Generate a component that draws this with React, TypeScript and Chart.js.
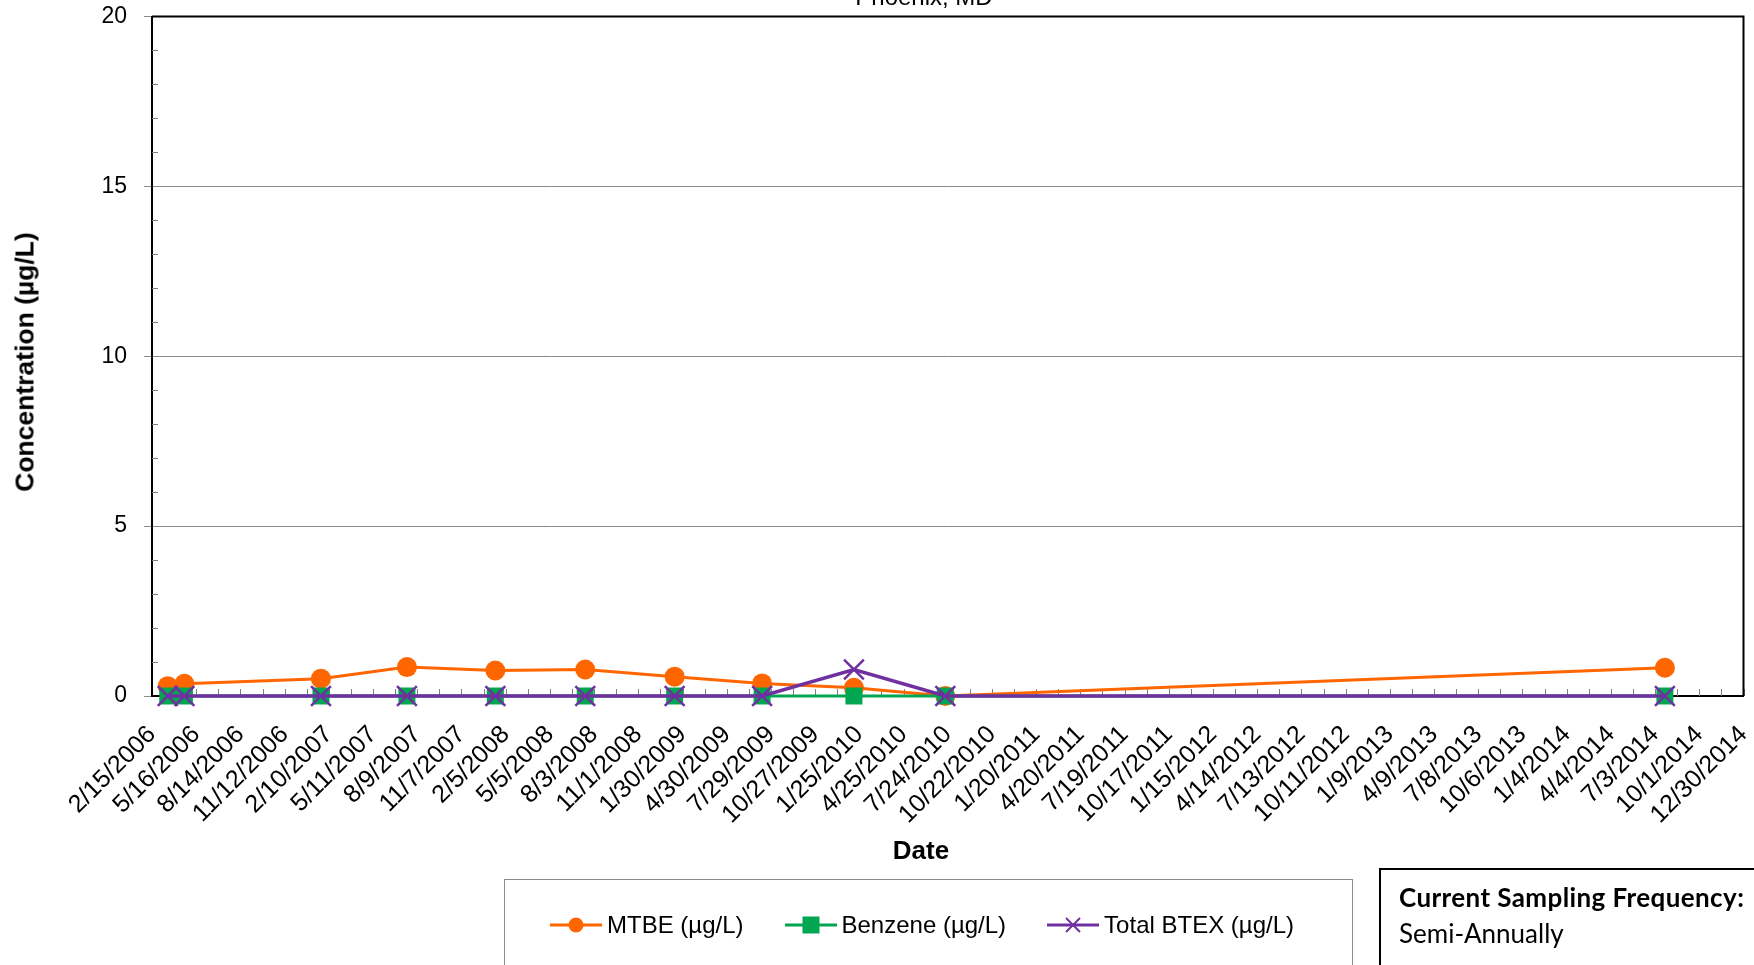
import React, { useEffect, useRef } from "react";
import { Chart, registerables } from "chart.js";

Chart.register(...registerables);

const sampleDates = ["3/19/2006", "4/22/2006", "1/25/2007", "7/19/2007", "1/15/2008", "7/16/2008", "1/14/2009", "7/11/2009", "1/14/2010", "7/19/2010", "7/23/2014"];
const mtbeValues = [0.29, 0.36, 0.51, 0.85, 0.75, 0.78, 0.57, 0.37, 0.24, 0, 0.83];
const benzeneValues = [0, 0, 0, 0, 0, 0, 0, 0, 0, 0, 0];
const btexValues = [0, 0, 0, 0, 0, 0, 0, 0, 0.78, 0, 0];
const axisStartDate = "2/15/2006";
const axisEndDate = "12/30/2014";
const tickStepDays = 90;
const yTicks = [0, 5, 10, 15, 20];

const DAY = 86400000;
function parseDate(s: string): number {
  const [m, d, y] = s.split("/").map(Number);
  return Date.UTC(y, m - 1, d);
}
const t0 = parseDate(axisStartDate);
const toDays = (s: string) => Math.round((parseDate(s) - t0) / DAY);
const xMax = toDays(axisEndDate);
function fmt(days: number): string {
  const dt = new Date(t0 + days * DAY);
  return `${dt.getUTCMonth() + 1}/${dt.getUTCDate()}/${dt.getUTCFullYear()}`;
}

const FONT = "'Liberation Sans', Arial, Helvetica, sans-serif";
const ORANGE = "#FF6600";
const GREEN = "#00A650";
const PURPLE = "#7030A0";

const framePlugin = {
  id: "frame",
  beforeDatasetsDraw(chart: any) {
    const { ctx, chartArea } = chart;
    const { left, right, top, bottom } = chartArea;
    const xs = chart.scales.x;
    const ys = chart.scales.y;
    ctx.save();
    ctx.strokeStyle = "#7f7f7f";
    ctx.lineWidth = 1;
    for (let v = tickStepDays / 2; v <= xMax; v += tickStepDays / 2) {
      const px = Math.round(xs.getPixelForValue(v)) + 0.5;
      ctx.beginPath();
      ctx.moveTo(px, bottom - 7);
      ctx.lineTo(px, bottom);
      ctx.stroke();
    }
    for (let v = 1; v < 20; v++) {
      if (v % 5 === 0) continue;
      const py = Math.round(ys.getPixelForValue(v)) + 0.5;
      ctx.beginPath();
      ctx.moveTo(left, py);
      ctx.lineTo(left + 6, py);
      ctx.stroke();
    }
    ctx.strokeStyle = "#000";
    ctx.lineWidth = 2;
    ctx.beginPath();
    ctx.moveTo(left, top);
    ctx.lineTo(right, top);
    ctx.lineTo(right, bottom);
    ctx.stroke();
    ctx.restore();
  },
};

function LegendIcon({ kind, color }: { kind: string; color: string }) {
  return (
    <svg width="52" height="20" style={{ display: "block" }}>
      <line x1="0" y1="10" x2="52" y2="10" stroke={color} strokeWidth="3" />
      {kind === "circle" && <circle cx="26" cy="10" r="7.5" fill={color} />}
      {kind === "rect" && <rect x="17.5" y="1.5" width="17" height="17" fill={color} />}
      {kind === "cross" && (
        <g stroke={color} strokeWidth="2">
          <line x1="19" y1="3" x2="33" y2="17" />
          <line x1="33" y1="3" x2="19" y2="17" />
        </g>
      )}
    </svg>
  );
}

export default function App() {
  const ref = useRef<HTMLCanvasElement>(null);
  useEffect(() => {
    if (!ref.current) return;
    const xs = sampleDates.map(toDays);
    const chart = new Chart(ref.current, {
      type: "line",
      data: {
        datasets: [
          {
            label: "MTBE (µg/L)",
            data: xs.map((x, i) => ({ x, y: mtbeValues[i] })),
            borderColor: ORANGE,
            backgroundColor: ORANGE,
            borderWidth: 3,
            pointStyle: "circle",
            pointRadius: 10,
            pointBorderWidth: 0,
            clip: false,
            order: 3,
          },
          {
            label: "Benzene (µg/L)",
            data: xs.map((x, i) => ({ x, y: benzeneValues[i] })),
            borderColor: GREEN,
            backgroundColor: GREEN,
            borderWidth: 3,
            pointStyle: "rect",
            pointRadius: 12,
            pointBorderWidth: 0,
            clip: false,
            order: 2,
          },
          {
            label: "Total BTEX (µg/L)",
            data: xs.map((x, i) => ({ x, y: btexValues[i] })),
            borderColor: PURPLE,
            backgroundColor: PURPLE,
            borderWidth: 3.5,
            pointStyle: "crossRot",
            pointRadius: 14,
            pointBorderWidth: 2.5,
            clip: false,
            order: 1,
          },
        ],
      },
      options: {
        responsive: false,
        animation: false,
        devicePixelRatio: 1,
        layout: { padding: { top: 16, right: 0, left: 0, bottom: 0 } },
        plugins: { legend: { display: false }, tooltip: { enabled: false } },
        scales: {
          x: {
            type: "linear",
            min: 0,
            max: xMax,
            afterFit: (s: any) => {
              s.height = 269;
              s.paddingLeft = 0;
              s.paddingRight = 0;
              s.paddingTop = 0;
              s.paddingBottom = 0;
            },
            afterBuildTicks: (s: any) => {
              const t = [];
              for (let v = 0; v <= xMax; v += tickStepDays) t.push({ value: v });
              s.ticks = t;
            },
            ticks: {
              autoSkip: false,
              minRotation: 45,
              maxRotation: 45,
              padding: 16,
              color: "#000",
              font: { family: FONT, size: 25 },
              callback: (v: any) => fmt(Number(v)),
            },
            grid: { display: false },
            border: { display: true, color: "#000", width: 2 },
          },
          y: {
            min: 0,
            max: 20,
            afterFit: (s: any) => {
              s.width = 152;
              s.paddingTop = 0;
              s.paddingBottom = 0;
              s.paddingLeft = 0;
              s.paddingRight = 0;
            },
            afterBuildTicks: (s: any) => { s.ticks = yTicks.map((v) => ({ value: v })); },
            ticks: {
              padding: 17,
              color: "#000",
              font: { family: FONT, size: 23 },
            },
            grid: { color: "#8c8c8c", lineWidth: 1, tickLength: 8, tickColor: "#8c8c8c" },
            border: { display: true, color: "#000", width: 2 },
          },
        },
      },
      plugins: [framePlugin],
    });
    return () => chart.destroy();
  }, []);

  return (
    <div style={{ position: "absolute", left: 0, top: 0, width: 1754, height: 965, overflow: "hidden", background: "#fff" }}>
      <canvas ref={ref} width={1760} height={965} style={{ position: "absolute", left: 0, top: 0 }} />
      <div style={{ position: "absolute", left: 824, width: 200, top: -15, textAlign: "center", font: `24px ${FONT}`, lineHeight: "24px", color: "#000" }}>
        Phoenix, MD
      </div>
      <div style={{ position: "absolute", left: 25, top: 362, width: 0, height: 0 }}>
        <div style={{ position: "absolute", left: 0, top: 0, transform: "translate(-50%, -50%) rotate(-90deg)", font: `bold 26.5px ${FONT}`, whiteSpace: "nowrap", color: "#000" }}>
          Concentration (µg/L)
        </div>
      </div>
      <div style={{ position: "absolute", left: 821, width: 200, top: 835, textAlign: "center", font: `bold 26px ${FONT}`, lineHeight: "30px", color: "#000" }}>
        Date
      </div>
      <div style={{ position: "absolute", left: 504, top: 879, width: 849, height: 120, border: "1px solid #8c8c8c", boxSizing: "border-box" }}>
        <div style={{ position: "absolute", left: 45, top: 31, display: "flex", alignItems: "center", font: `24px ${FONT}`, color: "#000", whiteSpace: "nowrap" }}>
          <LegendIcon kind="circle" color={ORANGE} />
          <span style={{ marginLeft: 5, marginRight: 41 }}>MTBE (µg/L)</span>
          <LegendIcon kind="rect" color={GREEN} />
          <span style={{ marginLeft: 5, marginRight: 41 }}>Benzene (µg/L)</span>
          <LegendIcon kind="cross" color={PURPLE} />
          <span style={{ marginLeft: 5 }}>Total BTEX (µg/L)</span>
        </div>
      </div>
      <div style={{ position: "absolute", left: 1379, top: 868, width: 420, height: 140, border: "2px solid #000", boxSizing: "border-box", fontFamily: "Lato, sans-serif", color: "#000" }}>
        <div style={{ position: "absolute", left: 18, top: 12, fontSize: 26, lineHeight: "30px", fontWeight: "bold", whiteSpace: "nowrap", letterSpacing: 0.4 }}>Current Sampling Frequency:</div>
        <div style={{ position: "absolute", left: 18, top: 48, fontSize: 26, lineHeight: "30px", whiteSpace: "nowrap" }}>Semi-Annually</div>
      </div>
    </div>
  );
}
